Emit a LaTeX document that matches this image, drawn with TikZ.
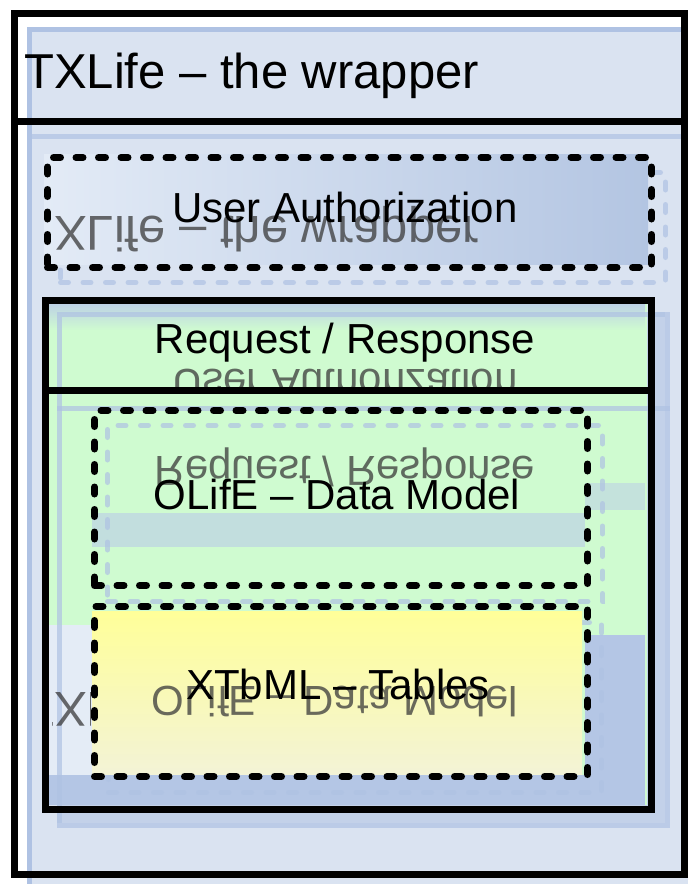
\documentclass[tikz,border=0pt]{standalone}
\usepackage{fontspec}
\setmainfont{Liberation Sans}
\definecolor{bgblue}{HTML}{DAE3F1}
\definecolor{gblue}{HTML}{AFC2E3}
\definecolor{gtext}{HTML}{3A3A3A}
\definecolor{authL}{HTML}{E3EBF6}
\definecolor{authR}{HTML}{B3C5E2}
\definecolor{reqG}{HTML}{CFFBD0}
\definecolor{stripe}{HTML}{BACBE8}
\definecolor{paleblue}{HTML}{E4ECF6}
\definecolor{midblue}{HTML}{B4C6E5}
\definecolor{yelT}{HTML}{FFFF99}
\definecolor{yelB}{HTML}{F3F3D6}
\begin{document}
\begin{tikzpicture}[x=1pt,y=-1pt,
  solidbox/.style={draw=black, line width=7pt, inner sep=0pt},
  dashbox/.style={draw=black, line width=7pt, dash pattern=on 7pt off 15.5pt, line cap=round, inner sep=0pt},
  ghost/.style={draw=gblue, line width=5pt, opacity=0.7},
  ghostdash/.style={ghost, dash pattern=on 8pt off 14.5pt, line cap=round},
  lbl/.style={font=\fontsize{42}{48}\selectfont, inner sep=0pt},
  biglbl/.style={font=\fontsize{49}{55}\selectfont, inner sep=0pt},
  mirror/.style={yscale=-1, text=gtext, text opacity=0.75}
]
\useasboundingbox (0,0) rectangle (688,884);
\fill[white] (0,0) rectangle (688,884);
% ghost outer copy (filled background)
\node[draw=gblue, line width=5pt, fill=bgblue, minimum width=662pt, minimum height=858pt, anchor=north west, inner sep=0pt] (gouter) at (27,27) {};
\draw[ghost] (gouter.west |- 0,136) -- (gouter.east |- 0,136);
\node[ghostdash, minimum width=605pt, minimum height=110pt, anchor=north west, inner sep=0pt] (gauth) at (58,170) {};
% user authorization fill
\node[left color=authL, right color=authR, minimum width=604pt, minimum height=110pt, anchor=north west, inner sep=0pt] (authfill) at (44,154) {};
% mirrored TXLife
\begin{scope}
\clip (54,130) rectangle (660,262);
\node[biglbl, mirror, anchor=base west] (mtx) at (24,216) {TXLife -- the wrapper};
\end{scope}
% ghost request box fill
\node[fill=midblue, opacity=0.6, minimum width=608pt, minimum height=511pt, anchor=north west, inner sep=0pt] (greqfill) at (57,312) {};
% request box fill
\node[fill=reqG, minimum width=604pt, minimum height=507pt, anchor=north west, inner sep=0pt] (reqfill) at (43,298) {};
\shade[top color=stripe, bottom color=reqG] (45,300) rectangle (645,330);
\fill[stripe, opacity=0.5] (585,483) rectangle (645,510);
\fill[stripe, opacity=0.6] (92,513) rectangle (585,547);
\fill[midblue] (585,635) rectangle (645,805);
\fill[midblue] (45,775) rectangle (645,805);
\fill[paleblue] (45,625) rectangle (92,775);
\node[ghost, minimum width=608pt, minimum height=511pt, anchor=north west, inner sep=0pt] (greq) at (57,312) {};
\draw[ghost] (greq.west |- 0,408) -- (greq.east |- 0,408);
% mirrored user authorization
\begin{scope}
\clip (45,360) rectangle (645,388);
\node[lbl, mirror] (mauth) at (345,385) {User Authorization};
\end{scope}
% mirrored request/response
\node[lbl, mirror] (mreq) at (345,467) {Request / Response};
\node[ghostdash, minimum width=495pt, minimum height=176pt, anchor=north west, inner sep=0pt] (golife) at (105,423) {};
\node[ghostdash, minimum width=493pt, minimum height=170pt, anchor=north west, inner sep=0pt] (gxtb) at (106,620) {};
% XTbML fill
\node[top color=yelT, bottom color=yelB, minimum width=490pt, minimum height=163pt, anchor=north west, inner sep=0pt] (xtbfill) at (92,611) {};
% mirrored OLifE and TXLife fragment
\node[lbl, mirror] (molife) at (335,702) {OLifE -- Data Model};
\begin{scope}
\clip (52,660) rectangle (90,735);
\node[biglbl, mirror, anchor=base west] (mtx2) at (24,692) {TXLife -- the wrapper};
\end{scope}
% main boxes
\node[solidbox, minimum width=670pt, minimum height=861pt, anchor=north west] (outer) at (11,10) {};
\draw[line width=7pt] (outer.west |- 0,121) -- (outer.east |- 0,121);
\node[biglbl, anchor=base west] (title) at (24,88) {TXLife -- the wrapper};
\node[dashbox, minimum width=604pt, minimum height=110pt, anchor=north west] (auth) at (44,154) {};
\node[lbl] (authlbl) at (345,207) {User Authorization};
\node[solidbox, minimum width=606pt, minimum height=509pt, anchor=north west] (req) at (42,297) {};
\draw[line width=7pt] (req.west |- 0,390) -- (req.east |- 0,390);
\node[lbl] (reqlbl) at (345,343) {Request / Response};
\node[dashbox, minimum width=493pt, minimum height=175pt, anchor=north west] (olife) at (91,407) {};
\node[lbl] (olifelbl) at (337,494) {OLifE -- Data Model};
\node[dashbox, minimum width=493pt, minimum height=170pt, anchor=north west] (xtb) at (91,603) {};
\node[lbl] (xtblbl) at (338,684) {XTbML -- Tables};
\end{tikzpicture}
\end{document}
